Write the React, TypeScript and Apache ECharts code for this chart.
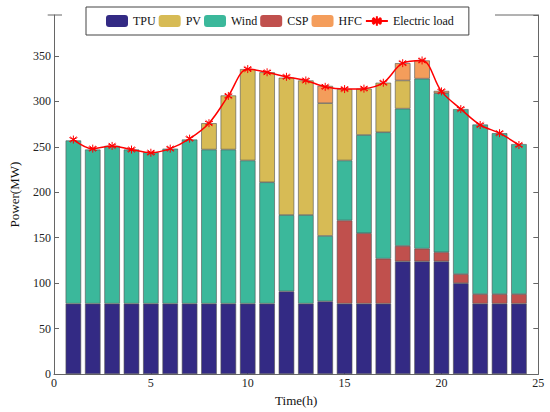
import React, { useEffect, useRef } from "react";
import * as echarts from "echarts";

const ticks = ["0", "1", "2", "3", "4", "5", "6", "7", "8", "9", "10", "11", "12", "13", "14", "15", "16", "17", "18", "19", "20", "21", "22", "23", "24", "25"];
const hours = [1, 2, 3, 4, 5, 6, 7, 8, 9, 10, 11, 12, 13, 14, 15, 16, 17, 18, 19, 20, 21, 22, 23, 24];
const tpu = [77.5, 77.5, 77.5, 77.5, 77.5, 77.5, 77.5, 77.5, 77.5, 77.5, 77.5, 91, 77.5, 80, 77.5, 77.5, 77.5, 124, 124, 124, 100, 77.5, 77.5, 77.5];
const csp = [0, 0, 0, 0, 0, 0, 0, 0, 0, 0, 0, 0, 0, 0, 91.5, 77.5, 49.5, 17, 14, 10, 10, 10.5, 10.5, 10.5];
const wind = [179.5, 169.5, 173.5, 169.5, 166.5, 170.5, 180.5, 169.5, 169.5, 157.5, 133.5, 84, 97.5, 72, 66, 108, 139, 151, 187, 175, 181.5, 186.5, 177, 165];
const pv = [0, 0, 0, 0, 0, 0, 0, 29, 59.5, 100.5, 121, 151, 148, 146, 78.5, 51, 54.5, 31, 0, 0, 0, 0, 0, 0];
const hfc = [0, 0, 0, 0, 0, 0, 0, 0, 0, 0, 0, 0, 0, 19, 0, 0, 0, 19, 20, 2.5, 0, 0, 0, 0];
const load = [258, 248, 251, 247, 243.5, 248, 259, 276, 306, 335.5, 332, 327, 323, 316, 313.5, 314, 320.5, 342, 345, 311, 291.5, 274, 265, 252];

const legendNames = ["TPU", "PV", "Wind", "CSP", "HFC", "Electric load"];

const FONT = "'Liberation Serif', 'Times New Roman', serif";
const AXIS = "#666666";

// place each hourly value on its category slot (slot index = hour), 0 -> empty
function toSlots(vals: number[]) {
  const out: (number | string)[] = ticks.map(() => "-");
  hours.forEach((h, i) => {
    out[h] = vals[i] === 0 ? "-" : vals[i];
  });
  return out;
}

export default function App() {
  const ref = useRef<HTMLDivElement>(null);
  useEffect(() => {
    if (!ref.current) return;
    const chart = echarts.init(ref.current, undefined, { renderer: "svg" });
    const barBase = {
      type: "bar",
      stack: "total",
      barWidth: 15.5,
      emphasis: { disabled: true },
    };
    const border = { borderColor: "#505050", borderWidth: 0.6 };
    chart.setOption({
      animation: false,
      textStyle: { fontFamily: FONT, color: "#222" },
      grid: { left: 47.7, right: 11.7, top: 15, bottom: 31 },
      legend: {
        data: legendNames.map((n) =>
          n === "Electric load" ? { name: n } : { name: n, itemStyle: { borderWidth: 0 } }
        ),
        left: 86,
        top: 7,
        padding: [8, 15, 8, 20],
        itemWidth: 22,
        itemHeight: 12,
        itemGap: 3,
        backgroundColor: "#ffffff",
        borderColor: "#444",
        borderWidth: 1,
        borderRadius: 0,
        z: 10,
        textStyle: { fontFamily: FONT, fontSize: 12, color: "#111" },
      },
      xAxis: {
        type: "category",
        data: ticks,
        boundaryGap: false,
        name: "Time(h)",
        nameLocation: "middle",
        nameGap: 18,
        nameTextStyle: { fontFamily: FONT, fontSize: 13, color: "#111" },
        axisLine: { lineStyle: { color: AXIS, width: 1 } },
        axisTick: { inside: true, length: 5, interval: 4, lineStyle: { color: AXIS } },
        axisLabel: { fontFamily: FONT, fontSize: 12, color: "#222", margin: 3, interval: 4 },
        splitLine: { show: false },
      },
      yAxis: [
        {
          type: "value",
          min: 0,
          max: 395,
          interval: 50,
          name: "Power(MW)",
          nameLocation: "middle",
          nameGap: 33,
          nameTextStyle: { fontFamily: FONT, fontSize: 13, color: "#111" },
          axisLine: { show: true, lineStyle: { color: AXIS, width: 1 } },
          axisTick: { show: true, inside: true, length: 5, lineStyle: { color: AXIS } },
          axisLabel: { fontFamily: FONT, fontSize: 12, color: "#222", margin: 3, showMaxLabel: false },
          splitLine: { show: false },
        },
        {
          type: "value",
          position: "right",
          min: 0,
          max: 395,
          interval: 50,
          axisLine: { show: true, lineStyle: { color: AXIS, width: 1 } },
          axisTick: { show: true, inside: true, length: 5, lineStyle: { color: AXIS } },
          axisLabel: { show: false },
          splitLine: { show: false },
        },
      ],
      graphic: [
        {
          type: "line",
          shape: { x1: 47.7, y1: 15, x2: 62, y2: 15 },
          style: { stroke: AXIS, lineWidth: 1 },
        },
        {
          type: "line",
          shape: { x1: 495, y1: 15, x2: 538.3, y2: 15 },
          style: { stroke: AXIS, lineWidth: 1 },
        },
      ],
      series: [
        { ...barBase, name: "TPU", data: toSlots(tpu), itemStyle: { ...border, color: "#332a84" } },
        { ...barBase, name: "CSP", data: toSlots(csp), itemStyle: { ...border, color: "#c0504d" } },
        { ...barBase, name: "Wind", data: toSlots(wind), itemStyle: { ...border, color: "#3bb89b" } },
        { ...barBase, name: "PV", data: toSlots(pv), itemStyle: { ...border, color: "#d7bb55" } },
        { ...barBase, name: "HFC", data: toSlots(hfc), itemStyle: { ...border, color: "#f49d5b" } },
        {
          type: "line",
          name: "Electric load",
          data: toSlots(load),
          smooth: 0.35,
          symbol: "path://M0,-5L0,5M-4.3,-2.5L4.3,2.5M-4.3,2.5L4.3,-2.5M-3.5,-3.5L3.5,3.5M-3.5,3.5L3.5,-3.5",
          symbolSize: 8,
          lineStyle: { color: "#ff0000", width: 1.5 },
          itemStyle: { color: "#ff0000", borderColor: "#ff0000", borderWidth: 1 },
          emphasis: { disabled: true },
          z: 5,
        },
      ],
    });
    return () => chart.dispose();
  }, []);
  return (
    <div
      ref={ref}
      style={{ position: "fixed", left: 0, top: 0, width: 550, height: 412, background: "#fff" }}
    />
  );
}
